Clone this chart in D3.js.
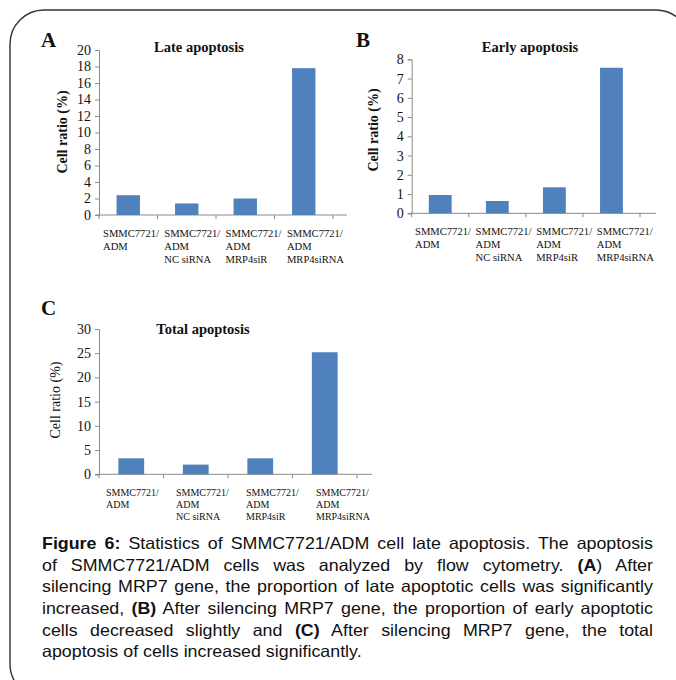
<!DOCTYPE html>
<html>
<head>
<meta charset="utf-8">
<script src="https://cdn.jsdelivr.net/npm/d3@7"></script>
<style>
  body { margin: 0; background: #fff; }
  #wrap { position: relative; width: 676px; height: 680px; overflow: hidden; }
  #caption { position: absolute; left: 42px; top: 533px; width: 565.7px;
    transform: scaleX(1.08); transform-origin: 0 0;
    font-family: "Liberation Sans", Arial, sans-serif; font-size: 16.5px; color: #111; }
  #caption div { height: 21.7px; line-height: 21.7px; white-space: nowrap;
    text-align: justify; text-align-last: justify; }
  #caption div.last { text-align-last: left; }
</style>
</head>
<body>
<div id="wrap">
  <svg id="chart" width="676" height="680"></svg>
  <div id="caption"></div>
</div>
<script>
// categories
var groups = [
  ["SMMC7721/", "ADM"],
  ["SMMC7721/", "ADM", "NC siRNA"],
  ["SMMC7721/", "ADM", "MRP4siR"],
  ["SMMC7721/", "ADM", "MRP4siRNA"]
];
// series values (cell ratio %)
var lateValues  = [2.4, 1.4, 2.0, 17.8];
var earlyValues = [0.95, 0.64, 1.35, 7.56];
var totalValues = [3.3, 2.0, 3.3, 25.2];
// tick labels
var lateTicks  = d3.range(0, 21, 2);
var earlyTicks = d3.range(0, 9, 1);
var totalTicks = d3.range(0, 31, 5);

var captionLines = [
  "<b>Figure 6:</b> Statistics of SMMC7721/ADM cell late apoptosis. The apoptosis",
  "of SMMC7721/ADM cells was analyzed by flow cytometry. <b>(A</b>) After",
  "silencing MRP7 gene, the proportion of late apoptotic cells was significantly",
  "increased, <b>(B)</b> After silencing MRP7 gene, the proportion of early apoptotic",
  "cells decreased slightly and <b>(C)</b> After silencing MRP7 gene, the total",
  "apoptosis of cells increased significantly."
];

var svg = d3.select("#chart");
var barColor = "#4f81bd", axisColor = "#8a8a8a";
var serif = "'Liberation Serif', 'Times New Roman', serif";

// outer rounded frame
svg.append("rect")
  .attr("x", 10).attr("y", 10).attr("width", 680).attr("height", 688)
  .attr("rx", 34).attr("ry", 34)
  .attr("fill", "none").attr("stroke", "#333").attr("stroke-width", 1.4);

var panels = [
  {letter: "A", title: "Late apoptosis", values: lateValues, ticks: lateTicks, max: 20,
   x0: 99, x1: 333, lineEnd: 347, yBot: 215, yTop: 50, boldLabel: true,
   labX: 62, labY: 132, titleX: 199, titleY: 52, letX: 41, letY: 47,
   catX0: 103, catStep: 61.3, catY: 236.5, catLh: 13, catFs: 10.6},
  {letter: "B", title: "Early apoptosis", values: earlyValues, ticks: earlyTicks, max: 8,
   x0: 411.7, x1: 640, lineEnd: 656, yBot: 213.3, yTop: 59.3, boldLabel: true,
   labX: 373, labY: 130, titleX: 530, titleY: 52, letX: 356, letY: 47,
   catX0: 415, catStep: 60.6, catY: 235, catLh: 12.8, catFs: 10.6},
  {letter: "C", title: "Total apoptosis", values: totalValues, ticks: totalTicks, max: 30,
   x0: 99, x1: 357, lineEnd: 372, yBot: 474.3, yTop: 329, boldLabel: false,
   labX: 55, labY: 400, titleX: 203, titleY: 334, letX: 41, letY: 315,
   catX0: 106, catStep: 70, catY: 496, catLh: 12.2, catFs: 10}
];

panels.forEach(drawPanel);

function drawPanel(p) {
  var g = svg.append("g");
  var x = d3.scaleBand().domain(d3.range(groups.length))
    .range([p.x0, p.x1]).paddingInner(0.6).paddingOuter(0.3);
  var y = d3.scaleLinear().domain([0, p.max]).range([p.yBot, p.yTop]);

  // y axis
  var yAxis = g.append("g")
    .attr("transform", "translate(" + p.x0 + ",0)")
    .call(d3.axisLeft(y).tickValues(p.ticks).tickSize(4).tickPadding(4).tickFormat(d3.format("d")));
  yAxis.selectAll("path, line").attr("stroke", axisColor);
  yAxis.selectAll("text").attr("fill", "#111")
    .style("font-family", serif).style("font-size", "14px");

  // x axis: boundary ticks between categories
  var bounds = d3.range(groups.length + 1).map(function(i) {
    return p.x0 + i * x.step();
  });
  g.append("line")
    .attr("x1", p.x0 - 3).attr("x2", p.lineEnd)
    .attr("y1", y(0)).attr("y2", y(0))
    .attr("stroke", axisColor);
  g.selectAll(".xt").data(bounds).enter().append("line")
    .attr("x1", function(d) { return d; }).attr("x2", function(d) { return d; })
    .attr("y1", y(0)).attr("y2", y(0) + 4)
    .attr("stroke", axisColor);

  // bars
  g.selectAll(".bar").data(p.values).enter().append("rect")
    .attr("x", function(d, i) { return x(i); })
    .attr("y", function(d) { return y(d); })
    .attr("width", x.bandwidth())
    .attr("height", function(d) { return y(0) - y(d); })
    .attr("fill", barColor);

  // category labels
  var labels = g.selectAll(".cat").data(groups).enter().append("text")
    .attr("x", function(d, i) { return p.catX0 + i * p.catStep; })
    .attr("y", p.catY)
    .style("font-family", serif).style("font-size", p.catFs + "px")
    .attr("fill", "#111");
  labels.selectAll("tspan").data(function(d) { return d; }).enter().append("tspan")
    .attr("x", function() { return d3.select(this.parentNode).attr("x"); })
    .attr("dy", function(d, i) { return i ? p.catLh : 0; })
    .text(function(d) { return d; });

  // y axis title
  g.append("text")
    .attr("transform", "translate(" + p.labX + "," + p.labY + ") rotate(-90)")
    .attr("text-anchor", "middle").attr("dy", "0.35em")
    .style("font-family", serif).style("font-size", "14px")
    .style("font-weight", p.boldLabel ? "bold" : "normal")
    .attr("fill", "#111")
    .text("Cell ratio (%)");

  // chart title
  g.append("text")
    .attr("x", p.titleX).attr("y", p.titleY)
    .attr("text-anchor", "middle")
    .style("font-family", serif).style("font-size", "14.5px").style("font-weight", "bold")
    .attr("fill", "#111")
    .text(p.title);

  // panel letter
  g.append("text")
    .attr("x", p.letX).attr("y", p.letY)
    .style("font-family", serif).style("font-size", "21px").style("font-weight", "bold")
    .attr("fill", "#111")
    .text(p.letter);
}

// caption
d3.select("#caption").selectAll("div").data(captionLines).enter().append("div")
  .attr("class", function(d, i) { return i === captionLines.length - 1 ? "last" : null; })
  .html(function(d) { return d; });
</script>
</body>
</html>
